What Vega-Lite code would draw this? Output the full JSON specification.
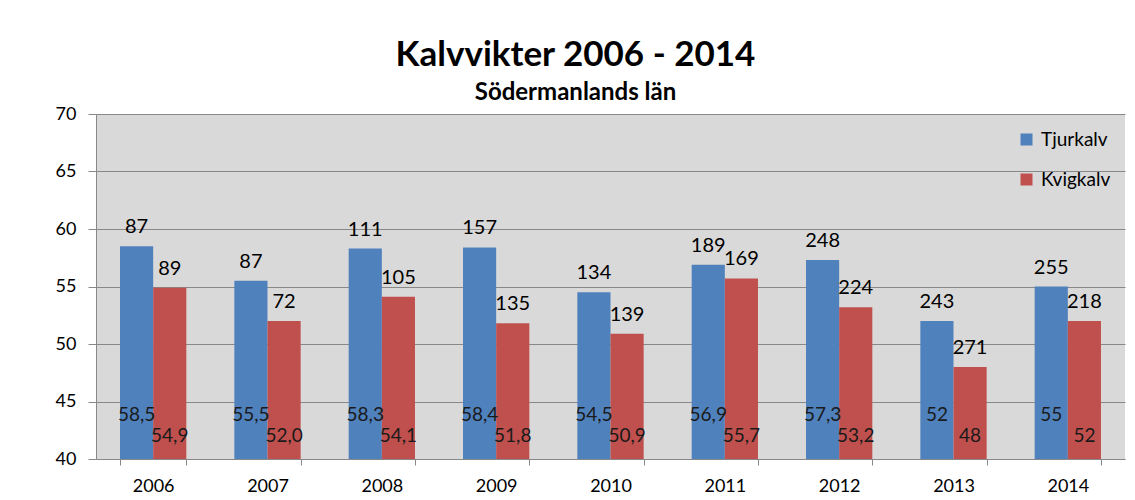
{
  "$schema": "https://vega.github.io/schema/vega-lite/v6.json",
  "width": 1029,
  "height": 345,
  "autosize": {"type": "none"},
  "padding": {"left": 96, "top": 114, "right": 10, "bottom": 41},
  "background": "white",
  "title": {
    "text": "Kalvvikter 2006 - 2014",
    "subtitle": "Södermanlands län",
    "anchor": "middle",
    "dx": -35,
    "font": "Lato",
    "fontSize": 35,
    "fontWeight": "bold",
    "color": "#000000",
    "subtitleFont": "Lato",
    "subtitleFontSize": 24,
    "subtitleFontWeight": "bold",
    "subtitleColor": "#000000",
    "subtitlePadding": 8,
    "offset": 0
  },
  "config": {
    "view": {"fill": "#D9D9D9", "stroke": null},
    "font": "Lato",
    "axis": {"labelFont": "Lato", "labelFontSize": 18, "labelColor": "#000000", "domainColor": "#888888", "tickColor": "#888888", "gridColor": "#888888", "gridWidth": 1}
  },
  "data": {
    "values": [
      {"year": "2006", "kon": "Tjurkalv", "vikt": 58.5, "antal": 87, "etikett": "58,5"},
      {"year": "2006", "kon": "Kvigkalv", "vikt": 54.9, "antal": 89, "etikett": "54,9"},
      {"year": "2007", "kon": "Tjurkalv", "vikt": 55.5, "antal": 87, "etikett": "55,5"},
      {"year": "2007", "kon": "Kvigkalv", "vikt": 52.0, "antal": 72, "etikett": "52,0"},
      {"year": "2008", "kon": "Tjurkalv", "vikt": 58.3, "antal": 111, "etikett": "58,3"},
      {"year": "2008", "kon": "Kvigkalv", "vikt": 54.1, "antal": 105, "etikett": "54,1"},
      {"year": "2009", "kon": "Tjurkalv", "vikt": 58.4, "antal": 157, "etikett": "58,4"},
      {"year": "2009", "kon": "Kvigkalv", "vikt": 51.8, "antal": 135, "etikett": "51,8"},
      {"year": "2010", "kon": "Tjurkalv", "vikt": 54.5, "antal": 134, "etikett": "54,5"},
      {"year": "2010", "kon": "Kvigkalv", "vikt": 50.9, "antal": 139, "etikett": "50,9"},
      {"year": "2011", "kon": "Tjurkalv", "vikt": 56.9, "antal": 189, "etikett": "56,9"},
      {"year": "2011", "kon": "Kvigkalv", "vikt": 55.7, "antal": 169, "etikett": "55,7"},
      {"year": "2012", "kon": "Tjurkalv", "vikt": 57.3, "antal": 248, "etikett": "57,3"},
      {"year": "2012", "kon": "Kvigkalv", "vikt": 53.2, "antal": 224, "etikett": "53,2"},
      {"year": "2013", "kon": "Tjurkalv", "vikt": 52, "antal": 243, "etikett": "52"},
      {"year": "2013", "kon": "Kvigkalv", "vikt": 48, "antal": 271, "etikett": "48"},
      {"year": "2014", "kon": "Tjurkalv", "vikt": 55, "antal": 255, "etikett": "55"},
      {"year": "2014", "kon": "Kvigkalv", "vikt": 52, "antal": 218, "etikett": "52"}
    ]
  },
  "encoding": {
    "x": {
      "field": "year", "type": "nominal", "title": null,
      "scale": {"paddingInner": 0.42, "paddingOuter": 0.21},
      "axis": {"labelAngle": 0, "tickBand": "extent", "tickSize": 6, "labelPadding": 12, "grid": false}
    },
    "xOffset": {"field": "kon", "type": "nominal", "scale": {"domain": ["Tjurkalv", "Kvigkalv"], "paddingInner": 0}}
  },
  "layer": [
    {
      "mark": {"type": "bar"},
      "encoding": {
        "y": {
          "field": "vikt", "type": "quantitative", "title": null,
          "scale": {"domain": [40, 70], "zero": false, "nice": false},
          "axis": {"values": [40, 45, 50, 55, 60, 65, 70], "grid": true, "tickSize": 8, "labelPadding": 12}
        },
        "y2": {"datum": 40},
        "color": {
          "field": "kon", "type": "nominal",
          "scale": {"domain": ["Tjurkalv", "Kvigkalv"], "range": ["#4F81BD", "#C0504D"]},
          "legend": {
            "title": null, "orient": "none", "legendX": 921, "legendY": 16,
            "symbolType": "square", "symbolSize": 144, "symbolStrokeWidth": 0,
            "labelFont": "Lato", "labelFontSize": 19, "labelColor": "#000000",
            "rowPadding": 20, "labelOffset": 5
          }
        }
      }
    },
    {
      "mark": {"type": "text", "fontSize": 20, "color": "#000000", "baseline": "alphabetic", "dy": -13},
      "encoding": {
        "y": {"field": "vikt", "type": "quantitative"},
        "text": {"field": "antal", "type": "quantitative"}
      }
    },
    {
      "transform": [{"filter": "datum.kon === 'Tjurkalv'"}],
      "mark": {"type": "text", "fontSize": 19, "color": "#1a1a1a", "baseline": "middle"},
      "encoding": {
        "y": {"datum": 43.8, "type": "quantitative"},
        "text": {"field": "etikett", "type": "nominal"}
      }
    },
    {
      "transform": [{"filter": "datum.kon === 'Kvigkalv'"}],
      "mark": {"type": "text", "fontSize": 19, "color": "#1a1a1a", "baseline": "middle"},
      "encoding": {
        "y": {"datum": 42.0, "type": "quantitative"},
        "text": {"field": "etikett", "type": "nominal"}
      }
    }
  ]
}
